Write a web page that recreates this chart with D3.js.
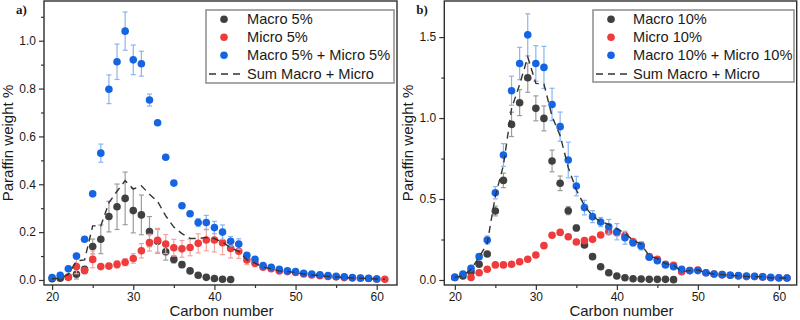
<!DOCTYPE html>
<html>
<head>
<meta charset="utf-8">
<script src="https://cdn.jsdelivr.net/npm/d3@7/dist/d3.min.js"></script>
<style>
  body { margin: 0; background: #fff; }
  svg text { font-family: "Liberation Sans", Arial, sans-serif; fill: #1a1a1a; }
</style>
</head>
<body>
<div id="chart"></div>
<script>
// --- 1. data (carbon numbers start at *Start) ---
const tickLabelsX = [20, 30, 40, 50, 60];

// panel a) 5 %
const macro5Start = 20;
const macro5 = [0.005, 0.007, 0.012, 0.024, 0.045, 0.14, 0.17, 0.265, 0.306, 0.341, 0.29, 0.272, 0.202, 0.162, 0.118, 0.086, 0.064, 0.038, 0.02, 0.011, 0.006, 0.003, 0.002];
const macro5Err = [0, 0, 0.005, 0.02, 0.01, 0.031, 0.06, 0.064, 0.095, 0.11, 0.093, 0.083, 0.063, 0.05, 0.035, 0.015, 0.012, 0.005, 0, 0, 0, 0, 0];

const micro5Start = 22;
const micro5 = [0.011, 0.056, 0.039, 0.086, 0.056, 0.058, 0.065, 0.074, 0.09, 0.122, 0.156, 0.166, 0.15, 0.135, 0.13, 0.136, 0.153, 0.167, 0.167, 0.156, 0.132, 0.12, 0.084, 0.07, 0.053, 0.047, 0.038, 0.035, 0.031, 0.025, 0.021, 0.018, 0.015, 0.013, 0.01, 0.008, 0.007, 0.006, 0.004, 0.003];
const micro5Err = [0, 0.03, 0.01, 0.035, 0.008, 0.01, 0.015, 0.015, 0.02, 0.03, 0.035, 0.05, 0.04, 0.035, 0.035, 0.035, 0.04, 0.045, 0.05, 0.05, 0.04, 0.03, 0.02, 0.015, 0.008, 0.006, 0.005, 0, 0, 0, 0, 0, 0, 0, 0, 0, 0, 0, 0, 0];

const blend5Start = 20;
const blend5 = [0.01, 0.02, 0.047, 0.10, 0.17, 0.36, 0.53, 0.797, 0.912, 1.04, 0.92, 0.904, 0.752, 0.657, 0.513, 0.405, 0.31, 0.277, 0.24, 0.24, 0.219, 0.2, 0.162, 0.15, 0.103, 0.086, 0.06, 0.053, 0.045, 0.038, 0.035, 0.028, 0.025, 0.022, 0.018, 0.015, 0.013, 0.01, 0.008, 0.007, 0.004];
const blend5Err = [0, 0, 0, 0.005, 0.005, 0.008, 0.038, 0.06, 0.074, 0.08, 0.062, 0.052, 0.025, 0.005, 0, 0, 0.005, 0.008, 0.017, 0.03, 0.026, 0.03, 0.02, 0.022, 0.01, 0.008, 0.005, 0.005, 0, 0, 0, 0, 0, 0, 0, 0, 0, 0, 0, 0, 0];

const sum5Start = 20;
const sum5 = [0.005, 0.007, 0.023, 0.08, 0.084, 0.226, 0.226, 0.323, 0.371, 0.415, 0.38, 0.394, 0.358, 0.328, 0.268, 0.221, 0.194, 0.174, 0.173, 0.178, 0.173, 0.159, 0.134, 0.12, 0.084, 0.07, 0.053, 0.047, 0.038, 0.035, 0.031, 0.025, 0.021, 0.018, 0.015, 0.013, 0.01, 0.008, 0.007, 0.006, 0.004, 0.003];

// panel b) 10 %
const macro10Start = 20;
const macro10 = [0.016, 0.025, 0.05, 0.097, 0.16, 0.426, 0.615, 0.961, 1.095, 1.249, 1.06, 0.998, 0.735, 0.597, 0.428, 0.321, 0.216, 0.144, 0.082, 0.045, 0.025, 0.014, 0.008, 0.006, 0.004, 0.004, 0.004, 0.002];
const macro10Err = [0, 0, 0, 0.01, 0.01, 0.03, 0.045, 0.075, 0.08, 0.09, 0.077, 0.077, 0.067, 0.045, 0.025, 0.018, 0.01, 0, 0, 0, 0, 0, 0, 0, 0, 0, 0, 0];

const micro10Start = 22;
const micro10 = [0.016, 0.045, 0.066, 0.093, 0.093, 0.097, 0.113, 0.128, 0.154, 0.212, 0.276, 0.294, 0.267, 0.235, 0.243, 0.251, 0.278, 0.298, 0.292, 0.274, 0.237, 0.216, 0.144, 0.128, 0.097, 0.09, 0.051, 0.058, 0.062, 0.045, 0.037, 0.033, 0.029, 0.025, 0.021, 0.021, 0.019, 0.014, 0.012, 0.012];

const blend10Start = 20;
const blend10 = [0.016, 0.037, 0.072, 0.144, 0.247, 0.539, 0.772, 1.169, 1.337, 1.514, 1.337, 1.313, 1.084, 0.947, 0.741, 0.58, 0.447, 0.391, 0.358, 0.329, 0.298, 0.261, 0.23, 0.21, 0.14, 0.119, 0.093, 0.082, 0.066, 0.058, 0.058, 0.045, 0.037, 0.033, 0.029, 0.027, 0.025, 0.023, 0.019, 0.016, 0.014, 0.012];
const blend10Err = [0, 0, 0.01, 0.01, 0.025, 0.038, 0.07, 0.09, 0.1, 0.13, 0.11, 0.13, 0.1, 0.09, 0.11, 0.06, 0.045, 0.037, 0.028, 0.045, 0.05, 0.04, 0.02, 0.025, 0.015, 0, 0, 0, 0, 0, 0, 0, 0, 0, 0, 0, 0, 0, 0, 0, 0, 0];

const sum10Start = 20;
const sum10 = [0.016, 0.025, 0.066, 0.142, 0.226, 0.519, 0.708, 1.058, 1.208, 1.377, 1.214, 1.21, 1.011, 0.891, 0.695, 0.556, 0.459, 0.395, 0.36, 0.343, 0.317, 0.288, 0.245, 0.222, 0.148, 0.132, 0.101, 0.092, 0.051, 0.058, 0.062, 0.045, 0.037, 0.033, 0.029, 0.025, 0.021, 0.021, 0.019, 0.014, 0.012, 0.012];

// --- 2. styles ---
const COLORS = { macro: "#404040", micro: "#ef3b3b", blend: "#1565e3" };
const ERR_COLORS = { macro: "#9c9c9c", micro: "#f4a2a2", blend: "#8ab5ee" };

const svg = d3.select("#chart").append("svg")
    .attr("width", 800)
    .attr("height", 320)
    .attr("viewBox", "0 0 800 320");

function toPoints(start, values, errs) {
    return values.map((v, i) => ({ c: start + i, v: v, e: errs ? errs[i] : 0 }));
}

function drawPanel(cfg) {
    const g = svg.append("g");
    const x = d3.scaleLinear().domain(cfg.xDomain).range([cfg.left, cfg.right]);
    const y = d3.scaleLinear().domain(cfg.yDomain).range([cfg.bottom, cfg.top]);

    // axes
    g.append("g").attr("transform", `translate(0,${cfg.bottom})`)
        .call(d3.axisBottom(x).tickValues(tickLabelsX).tickSize(5).tickPadding(2).tickFormat(d3.format("d")));
    g.append("g").attr("transform", `translate(0,${cfg.bottom})`)
        .call(d3.axisBottom(x).tickValues([25, 35, 45, 55]).tickSize(3).tickFormat(""));
    g.append("g").attr("transform", `translate(${cfg.left},0)`)
        .call(d3.axisLeft(y).tickValues(cfg.yTicks).tickSize(5).tickPadding(3).tickFormat(d3.format(".1f")));
    g.append("g").attr("transform", `translate(${cfg.left},0)`)
        .call(d3.axisLeft(y).tickValues(cfg.yMinor).tickSize(3).tickFormat(""));
    g.selectAll(".domain").remove();
    g.selectAll(".tick line").attr("stroke", "#333").attr("stroke-width", 1.2);
    g.selectAll(".tick text").style("font-size", "12px");

    // frame
    g.append("rect")
        .attr("x", cfg.left).attr("y", cfg.top)
        .attr("width", cfg.right - cfg.left).attr("height", cfg.bottom - cfg.top)
        .attr("fill", "none").attr("stroke", "#2e2e2e").attr("stroke-width", 1.4);

    // series: error bars then dots
    cfg.series.forEach(s => {
        const pts = s.points;
        const eb = g.append("g").attr("stroke", ERR_COLORS[s.kind]).attr("stroke-width", 1.2);
        pts.filter(d => d.e > 0).forEach(d => {
            const cx = x(d.c), y1 = y(d.v - d.e), y2 = y(d.v + d.e);
            eb.append("line").attr("x1", cx).attr("x2", cx).attr("y1", y1).attr("y2", y2);
            eb.append("line").attr("x1", cx - 2.5).attr("x2", cx + 2.5).attr("y1", y1).attr("y2", y1);
            eb.append("line").attr("x1", cx - 2.5).attr("x2", cx + 2.5).attr("y1", y2).attr("y2", y2);
        });
        g.append("g").selectAll("circle")
            .data(pts)
            .enter()
            .append("circle")
            .attr("cx", d => x(d.c))
            .attr("cy", d => y(d.v))
            .attr("r", 3.8)
            .attr("fill", COLORS[s.kind]);
    });

    // dashed sum line on top
    const line = d3.line().x(d => x(d.c)).y(d => y(d.v));
    g.append("path")
        .datum(cfg.sum)
        .attr("d", line)
        .attr("fill", "none")
        .attr("stroke", "#333")
        .attr("stroke-width", 1.4)
        .attr("stroke-dasharray", "7,5");

    // axis titles
    g.append("text")
        .attr("x", (cfg.left + cfg.right) / 2 + 1).attr("y", 316)
        .attr("text-anchor", "middle").style("font-size", "15px")
        .text("Carbon number");
    g.append("text")
        .attr("transform", `translate(${cfg.left - 31},${(cfg.top + cfg.bottom) / 2}) rotate(-90)`)
        .attr("text-anchor", "middle").style("font-size", "15px")
        .text("Paraffin weight %");

    // panel label
    g.append("text")
        .attr("x", cfg.left - 28).attr("y", 13.5)
        .style("font-family", "'Liberation Serif', 'Times New Roman', serif")
        .style("font-weight", "bold").style("font-size", "13px")
        .text(cfg.label);

    // legend
    const lg = g.append("g").attr("transform", `translate(${cfg.legend.x},${cfg.legend.y})`);
    lg.append("rect")
        .attr("width", cfg.legend.w).attr("height", cfg.legend.h)
        .attr("fill", "#fff").attr("stroke", "#8c8c8c").attr("stroke-width", 1.5);
    const rows = [9.3, 27.3, 45.3, 64];
    cfg.series.forEach((s, i) => {
        lg.append("circle").attr("cx", 18).attr("cy", rows[i]).attr("r", 3.8).attr("fill", COLORS[s.kind]);
        lg.append("text").attr("x", cfg.legend.textX).attr("y", rows[i])
            .attr("dy", "0.35em").style("font-size", "14.6px").text(s.name);
    });
    lg.append("line")
        .attr("x1", 3).attr("x2", 34).attr("y1", rows[3]).attr("y2", rows[3])
        .attr("stroke", "#333").attr("stroke-width", 1.4).attr("stroke-dasharray", "7,5");
    lg.append("text").attr("x", cfg.legend.textX).attr("y", rows[3])
        .attr("dy", "0.35em").style("font-size", "14.6px").text("Sum Macro + Micro");
}

// --- 3. panels ---
drawPanel({
    label: "a)",
    left: 44, right: 397, top: 1, bottom: 285,
    xDomain: [19, 62.5], yDomain: [-0.021, 1.166],
    yTicks: [0, 0.2, 0.4, 0.6, 0.8, 1.0], yMinor: [0.1, 0.3, 0.5, 0.7, 0.9, 1.1],
    series: [
        { kind: "macro", name: "Macro 5%", points: toPoints(macro5Start, macro5, macro5Err) },
        { kind: "micro", name: "Micro 5%", points: toPoints(micro5Start, micro5, micro5Err) },
        { kind: "blend", name: "Macro 5% + Micro 5%", points: toPoints(blend5Start, blend5, blend5Err) }
    ],
    sum: toPoints(sum5Start, sum5),
    legend: { x: 206, y: 10, w: 188, h: 73, textX: 41 }
});

drawPanel({
    label: "b)",
    left: 444.3, right: 796.7, top: 1, bottom: 285,
    xDomain: [18.7, 62.2], yDomain: [-0.031, 1.723],
    yTicks: [0, 0.5, 1.0, 1.5], yMinor: [0.25, 0.75, 1.25],
    series: [
        { kind: "macro", name: "Macro 10%", points: toPoints(macro10Start, macro10, macro10Err) },
        { kind: "micro", name: "Micro 10%", points: toPoints(micro10Start, micro10, null) },
        { kind: "blend", name: "Macro 10% + Micro 10%", points: toPoints(blend10Start, blend10, blend10Err) }
    ],
    sum: toPoints(sum10Start, sum10),
    legend: { x: 593, y: 10, w: 201, h: 72, textX: 40 }
});
</script>
</body>
</html>
